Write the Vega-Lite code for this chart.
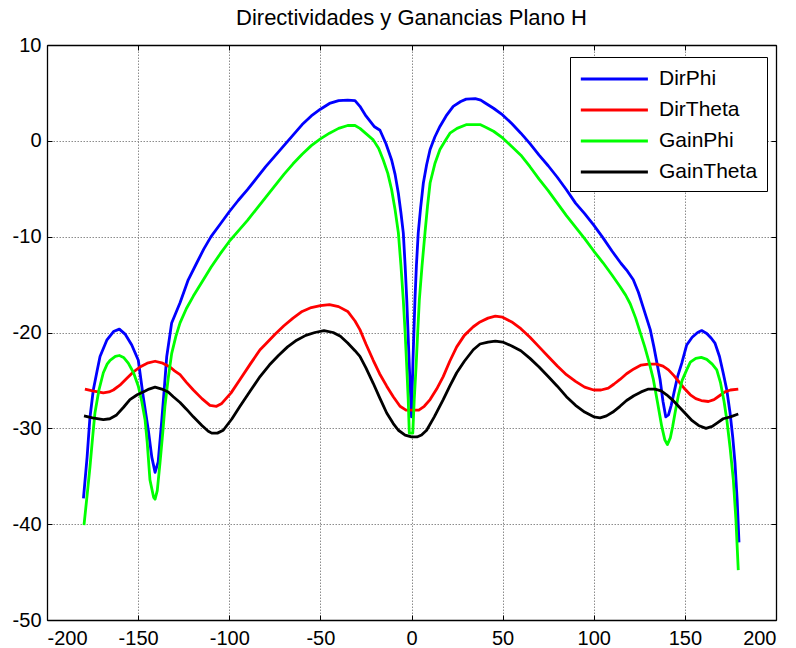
{
"$schema": "https://vega.github.io/schema/vega-lite/v6.json",
"width": 729,
"height": 575,
"autosize": {"type": "none"},
"padding": {"left": 47, "top": 45, "right": 20, "bottom": 28},
"background": "white",
"title": {"text": "Directividades y Ganancias Plano H", "fontSize": 22, "font": "Liberation Sans", "fontWeight": "normal", "color": "black", "offset": 5, "anchor": "middle"},
"datasets": {
"curves": [
{"s":"DirPhi","x":-180,"y":-37.3},{"s":"DirPhi","x":-178,"y":-33},{"s":"DirPhi","x":-176.5,"y":-29},{"s":"DirPhi","x":-174.6,"y":-26},{"s":"DirPhi","x":-172.5,"y":-24},{"s":"DirPhi","x":-170.9,"y":-22.5},{"s":"DirPhi","x":-167.2,"y":-20.8},{"s":"DirPhi","x":-163.5,"y":-19.9},{"s":"DirPhi","x":-160.3,"y":-19.65},{"s":"DirPhi","x":-157,"y":-20.2},{"s":"DirPhi","x":-153.5,"y":-21.3},{"s":"DirPhi","x":-149.9,"y":-22.9},{"s":"DirPhi","x":-147.2,"y":-26.7},{"s":"DirPhi","x":-144.4,"y":-30.2},{"s":"DirPhi","x":-142.5,"y":-33},{"s":"DirPhi","x":-140.7,"y":-34.6},{"s":"DirPhi","x":-139,"y":-33.5},{"s":"DirPhi","x":-137,"y":-29.1},{"s":"DirPhi","x":-135.5,"y":-25.5},{"s":"DirPhi","x":-134.3,"y":-22.5},{"s":"DirPhi","x":-131.6,"y":-19},{"s":"DirPhi","x":-127,"y":-16.9},{"s":"DirPhi","x":-122.5,"y":-14.5},{"s":"DirPhi","x":-118,"y":-12.8},{"s":"DirPhi","x":-114,"y":-11.3},{"s":"DirPhi","x":-110,"y":-10},{"s":"DirPhi","x":-105,"y":-8.7},{"s":"DirPhi","x":-100,"y":-7.4},{"s":"DirPhi","x":-95,"y":-6.2},{"s":"DirPhi","x":-90,"y":-5.1},{"s":"DirPhi","x":-85,"y":-3.9},{"s":"DirPhi","x":-80,"y":-2.7},{"s":"DirPhi","x":-75,"y":-1.6},{"s":"DirPhi","x":-70,"y":-0.5},{"s":"DirPhi","x":-65,"y":0.6},{"s":"DirPhi","x":-60,"y":1.7},{"s":"DirPhi","x":-55,"y":2.6},{"s":"DirPhi","x":-50,"y":3.3},{"s":"DirPhi","x":-45,"y":3.9},{"s":"DirPhi","x":-40,"y":4.2},{"s":"DirPhi","x":-35,"y":4.25},{"s":"DirPhi","x":-31,"y":4.2},{"s":"DirPhi","x":-28.3,"y":3.6},{"s":"DirPhi","x":-25,"y":2.6},{"s":"DirPhi","x":-20.5,"y":1.5},{"s":"DirPhi","x":-17.3,"y":1.1},{"s":"DirPhi","x":-14,"y":-0.3},{"s":"DirPhi","x":-10.9,"y":-2},{"s":"DirPhi","x":-9,"y":-3.5},{"s":"DirPhi","x":-7.2,"y":-5.5},{"s":"DirPhi","x":-5.8,"y":-7.5},{"s":"DirPhi","x":-4.5,"y":-9.6},{"s":"DirPhi","x":-3.5,"y":-13},{"s":"DirPhi","x":-2.6,"y":-16.6},{"s":"DirPhi","x":-1.2,"y":-23.5},{"s":"DirPhi","x":0,"y":-28.8},{"s":"DirPhi","x":0.8,"y":-23},{"s":"DirPhi","x":1.9,"y":-16.6},{"s":"DirPhi","x":2.7,"y":-13},{"s":"DirPhi","x":3.7,"y":-9.6},{"s":"DirPhi","x":5,"y":-7},{"s":"DirPhi","x":6.5,"y":-4.4},{"s":"DirPhi","x":8.3,"y":-2.5},{"s":"DirPhi","x":10.2,"y":-0.9},{"s":"DirPhi","x":12.8,"y":0.4},{"s":"DirPhi","x":15.6,"y":1.5},{"s":"DirPhi","x":19,"y":2.6},{"s":"DirPhi","x":22.9,"y":3.6},{"s":"DirPhi","x":27,"y":4.1},{"s":"DirPhi","x":30,"y":4.35},{"s":"DirPhi","x":35,"y":4.4},{"s":"DirPhi","x":38,"y":4.25},{"s":"DirPhi","x":40,"y":4},{"s":"DirPhi","x":45,"y":3.4},{"s":"DirPhi","x":50,"y":2.7},{"s":"DirPhi","x":55,"y":1.8},{"s":"DirPhi","x":60,"y":0.8},{"s":"DirPhi","x":65,"y":-0.3},{"s":"DirPhi","x":70,"y":-1.5},{"s":"DirPhi","x":75,"y":-2.6},{"s":"DirPhi","x":80,"y":-3.8},{"s":"DirPhi","x":85,"y":-5.1},{"s":"DirPhi","x":90,"y":-6.5},{"s":"DirPhi","x":95,"y":-7.6},{"s":"DirPhi","x":100,"y":-8.8},{"s":"DirPhi","x":105,"y":-10.1},{"s":"DirPhi","x":110,"y":-11.5},{"s":"DirPhi","x":115,"y":-12.8},{"s":"DirPhi","x":118.5,"y":-13.6},{"s":"DirPhi","x":121.7,"y":-14.5},{"s":"DirPhi","x":124.5,"y":-15.8},{"s":"DirPhi","x":127,"y":-17.3},{"s":"DirPhi","x":129,"y":-18.5},{"s":"DirPhi","x":131,"y":-19.7},{"s":"DirPhi","x":133,"y":-21.5},{"s":"DirPhi","x":134.8,"y":-23.3},{"s":"DirPhi","x":136.4,"y":-24.9},{"s":"DirPhi","x":138,"y":-27.2},{"s":"DirPhi","x":139.5,"y":-28.8},{"s":"DirPhi","x":141,"y":-28.6},{"s":"DirPhi","x":142.5,"y":-27.6},{"s":"DirPhi","x":144,"y":-26.3},{"s":"DirPhi","x":146,"y":-24.6},{"s":"DirPhi","x":148.3,"y":-23.2},{"s":"DirPhi","x":151,"y":-21.3},{"s":"DirPhi","x":154,"y":-20.5},{"s":"DirPhi","x":157,"y":-20},{"s":"DirPhi","x":159.2,"y":-19.8},{"s":"DirPhi","x":162,"y":-20.1},{"s":"DirPhi","x":164.5,"y":-20.6},{"s":"DirPhi","x":166.5,"y":-21.1},{"s":"DirPhi","x":169,"y":-22.5},{"s":"DirPhi","x":171,"y":-24.2},{"s":"DirPhi","x":173,"y":-26},{"s":"DirPhi","x":174.8,"y":-28.4},{"s":"DirPhi","x":176.3,"y":-31},{"s":"DirPhi","x":177.5,"y":-33.6},{"s":"DirPhi","x":178.7,"y":-37.5},{"s":"DirPhi","x":179.7,"y":-41.9},
{"s":"DirTheta","x":-179.2,"y":-25.9},{"s":"DirTheta","x":-175,"y":-26.1},{"s":"DirTheta","x":-169.1,"y":-26.3},{"s":"DirTheta","x":-166,"y":-26.2},{"s":"DirTheta","x":-163.6,"y":-26},{"s":"DirTheta","x":-160,"y":-25.5},{"s":"DirTheta","x":-156.3,"y":-24.8},{"s":"DirTheta","x":-152.5,"y":-24.1},{"s":"DirTheta","x":-149,"y":-23.6},{"s":"DirTheta","x":-145,"y":-23.2},{"s":"DirTheta","x":-140.7,"y":-23},{"s":"DirTheta","x":-136.5,"y":-23.2},{"s":"DirTheta","x":-132.5,"y":-23.6},{"s":"DirTheta","x":-130,"y":-24},{"s":"DirTheta","x":-127,"y":-24.4},{"s":"DirTheta","x":-123.5,"y":-25.2},{"s":"DirTheta","x":-119.7,"y":-26},{"s":"DirTheta","x":-115,"y":-26.9},{"s":"DirTheta","x":-110.6,"y":-27.6},{"s":"DirTheta","x":-107,"y":-27.7},{"s":"DirTheta","x":-104.1,"y":-27.4},{"s":"DirTheta","x":-99,"y":-26.3},{"s":"DirTheta","x":-94.1,"y":-24.9},{"s":"DirTheta","x":-88.5,"y":-23.3},{"s":"DirTheta","x":-83.1,"y":-21.8},{"s":"DirTheta","x":-80,"y":-21.2},{"s":"DirTheta","x":-75,"y":-20.2},{"s":"DirTheta","x":-70,"y":-19.3},{"s":"DirTheta","x":-65,"y":-18.5},{"s":"DirTheta","x":-60,"y":-17.8},{"s":"DirTheta","x":-55,"y":-17.4},{"s":"DirTheta","x":-50,"y":-17.2},{"s":"DirTheta","x":-45,"y":-17.1},{"s":"DirTheta","x":-40,"y":-17.3},{"s":"DirTheta","x":-35,"y":-17.8},{"s":"DirTheta","x":-31,"y":-18.8},{"s":"DirTheta","x":-28.3,"y":-19.7},{"s":"DirTheta","x":-25,"y":-21.2},{"s":"DirTheta","x":-21,"y":-22.9},{"s":"DirTheta","x":-17.5,"y":-24.3},{"s":"DirTheta","x":-13.6,"y":-25.6},{"s":"DirTheta","x":-10,"y":-26.7},{"s":"DirTheta","x":-6.3,"y":-27.7},{"s":"DirTheta","x":-3,"y":-28.1},{"s":"DirTheta","x":1,"y":-28.1},{"s":"DirTheta","x":4,"y":-28.1},{"s":"DirTheta","x":7,"y":-27.7},{"s":"DirTheta","x":10.2,"y":-27},{"s":"DirTheta","x":13.8,"y":-25.9},{"s":"DirTheta","x":17.4,"y":-24.6},{"s":"DirTheta","x":21,"y":-23},{"s":"DirTheta","x":24.8,"y":-21.5},{"s":"DirTheta","x":29,"y":-20.3},{"s":"DirTheta","x":33.9,"y":-19.4},{"s":"DirTheta","x":37.6,"y":-18.9},{"s":"DirTheta","x":42,"y":-18.5},{"s":"DirTheta","x":46,"y":-18.3},{"s":"DirTheta","x":50,"y":-18.4},{"s":"DirTheta","x":55,"y":-18.9},{"s":"DirTheta","x":60,"y":-19.6},{"s":"DirTheta","x":65,"y":-20.5},{"s":"DirTheta","x":70,"y":-21.5},{"s":"DirTheta","x":75,"y":-22.5},{"s":"DirTheta","x":80,"y":-23.5},{"s":"DirTheta","x":85,"y":-24.4},{"s":"DirTheta","x":90,"y":-25.1},{"s":"DirTheta","x":95,"y":-25.7},{"s":"DirTheta","x":100,"y":-26},{"s":"DirTheta","x":104,"y":-26},{"s":"DirTheta","x":108,"y":-25.8},{"s":"DirTheta","x":111,"y":-25.4},{"s":"DirTheta","x":114.4,"y":-24.9},{"s":"DirTheta","x":118,"y":-24.3},{"s":"DirTheta","x":122,"y":-23.8},{"s":"DirTheta","x":126,"y":-23.4},{"s":"DirTheta","x":130,"y":-23.3},{"s":"DirTheta","x":134.5,"y":-23.3},{"s":"DirTheta","x":138,"y":-23.5},{"s":"DirTheta","x":141,"y":-23.9},{"s":"DirTheta","x":144,"y":-24.5},{"s":"DirTheta","x":147,"y":-25.2},{"s":"DirTheta","x":150,"y":-25.9},{"s":"DirTheta","x":153,"y":-26.5},{"s":"DirTheta","x":156,"y":-26.9},{"s":"DirTheta","x":159,"y":-27.1},{"s":"DirTheta","x":162.9,"y":-27.2},{"s":"DirTheta","x":166,"y":-27},{"s":"DirTheta","x":169,"y":-26.6},{"s":"DirTheta","x":172,"y":-26.2},{"s":"DirTheta","x":175,"y":-26},{"s":"DirTheta","x":179.3,"y":-25.9},
{"s":"GainPhi","x":-179.7,"y":-40.1},{"s":"GainPhi","x":-178,"y":-37},{"s":"GainPhi","x":-176.4,"y":-34},{"s":"GainPhi","x":-175,"y":-31},{"s":"GainPhi","x":-173.7,"y":-28.4},{"s":"GainPhi","x":-171.5,"y":-26},{"s":"GainPhi","x":-169.1,"y":-24.2},{"s":"GainPhi","x":-167,"y":-23.3},{"s":"GainPhi","x":-165.4,"y":-22.9},{"s":"GainPhi","x":-162.5,"y":-22.5},{"s":"GainPhi","x":-160.3,"y":-22.4},{"s":"GainPhi","x":-158,"y":-22.6},{"s":"GainPhi","x":-155.4,"y":-23.2},{"s":"GainPhi","x":-152.5,"y":-24.2},{"s":"GainPhi","x":-149.9,"y":-25.6},{"s":"GainPhi","x":-148,"y":-27.2},{"s":"GainPhi","x":-146.2,"y":-29.1},{"s":"GainPhi","x":-145,"y":-31.5},{"s":"GainPhi","x":-143.5,"y":-35.4},{"s":"GainPhi","x":-141.5,"y":-37.2},{"s":"GainPhi","x":-140.7,"y":-37.4},{"s":"GainPhi","x":-139.5,"y":-36.5},{"s":"GainPhi","x":-138,"y":-33.6},{"s":"GainPhi","x":-136.5,"y":-30.5},{"s":"GainPhi","x":-135.3,"y":-27.7},{"s":"GainPhi","x":-133.5,"y":-24.8},{"s":"GainPhi","x":-131.6,"y":-22.2},{"s":"GainPhi","x":-129.3,"y":-20.4},{"s":"GainPhi","x":-127,"y":-19},{"s":"GainPhi","x":-123.5,"y":-17.5},{"s":"GainPhi","x":-119.7,"y":-16.2},{"s":"GainPhi","x":-114.2,"y":-14.5},{"s":"GainPhi","x":-110,"y":-13.2},{"s":"GainPhi","x":-105,"y":-11.8},{"s":"GainPhi","x":-100,"y":-10.5},{"s":"GainPhi","x":-95,"y":-9.4},{"s":"GainPhi","x":-90,"y":-8.3},{"s":"GainPhi","x":-85,"y":-7.1},{"s":"GainPhi","x":-80,"y":-5.9},{"s":"GainPhi","x":-75,"y":-4.7},{"s":"GainPhi","x":-70,"y":-3.5},{"s":"GainPhi","x":-65,"y":-2.4},{"s":"GainPhi","x":-60,"y":-1.4},{"s":"GainPhi","x":-55,"y":-0.5},{"s":"GainPhi","x":-50,"y":0.2},{"s":"GainPhi","x":-45,"y":0.8},{"s":"GainPhi","x":-40,"y":1.3},{"s":"GainPhi","x":-35,"y":1.6},{"s":"GainPhi","x":-31,"y":1.6},{"s":"GainPhi","x":-28.3,"y":1.3},{"s":"GainPhi","x":-24,"y":0.6},{"s":"GainPhi","x":-21,"y":0.1},{"s":"GainPhi","x":-18,"y":-0.8},{"s":"GainPhi","x":-15.5,"y":-2},{"s":"GainPhi","x":-13,"y":-3.4},{"s":"GainPhi","x":-10.9,"y":-5.1},{"s":"GainPhi","x":-9,"y":-7.2},{"s":"GainPhi","x":-7.2,"y":-9.6},{"s":"GainPhi","x":-5.8,"y":-13},{"s":"GainPhi","x":-4.5,"y":-16.6},{"s":"GainPhi","x":-3.5,"y":-20},{"s":"GainPhi","x":-2.6,"y":-23.6},{"s":"GainPhi","x":-1.8,"y":-27},{"s":"GainPhi","x":-1.2,"y":-30.5},{"s":"GainPhi","x":0.7,"y":-30.5},{"s":"GainPhi","x":1.5,"y":-27},{"s":"GainPhi","x":2.5,"y":-23.6},{"s":"GainPhi","x":3.4,"y":-20},{"s":"GainPhi","x":4.3,"y":-16.6},{"s":"GainPhi","x":5.8,"y":-13},{"s":"GainPhi","x":7.4,"y":-9.6},{"s":"GainPhi","x":8.8,"y":-6.8},{"s":"GainPhi","x":10.2,"y":-4.4},{"s":"GainPhi","x":12.8,"y":-2.4},{"s":"GainPhi","x":15.6,"y":-0.9},{"s":"GainPhi","x":18.5,"y":0},{"s":"GainPhi","x":21.1,"y":0.8},{"s":"GainPhi","x":25,"y":1.3},{"s":"GainPhi","x":30.3,"y":1.7},{"s":"GainPhi","x":37.6,"y":1.7},{"s":"GainPhi","x":41,"y":1.4},{"s":"GainPhi","x":45,"y":1},{"s":"GainPhi","x":50,"y":0.3},{"s":"GainPhi","x":55,"y":-0.6},{"s":"GainPhi","x":60,"y":-1.5},{"s":"GainPhi","x":65,"y":-2.7},{"s":"GainPhi","x":70,"y":-4},{"s":"GainPhi","x":75,"y":-5.2},{"s":"GainPhi","x":80,"y":-6.5},{"s":"GainPhi","x":85,"y":-7.8},{"s":"GainPhi","x":90,"y":-9},{"s":"GainPhi","x":95,"y":-10.2},{"s":"GainPhi","x":100,"y":-11.5},{"s":"GainPhi","x":105,"y":-12.7},{"s":"GainPhi","x":110,"y":-14},{"s":"GainPhi","x":114.4,"y":-15.2},{"s":"GainPhi","x":117.5,"y":-16.1},{"s":"GainPhi","x":120,"y":-17},{"s":"GainPhi","x":123,"y":-18.5},{"s":"GainPhi","x":126,"y":-20.3},{"s":"GainPhi","x":128,"y":-21.5},{"s":"GainPhi","x":130.5,"y":-23.2},{"s":"GainPhi","x":132.7,"y":-24.9},{"s":"GainPhi","x":135,"y":-27.3},{"s":"GainPhi","x":137.3,"y":-29.8},{"s":"GainPhi","x":139,"y":-31.2},{"s":"GainPhi","x":140.4,"y":-31.7},{"s":"GainPhi","x":142,"y":-31},{"s":"GainPhi","x":143.3,"y":-29.8},{"s":"GainPhi","x":144.6,"y":-28.4},{"s":"GainPhi","x":146.5,"y":-26.5},{"s":"GainPhi","x":148.5,"y":-25},{"s":"GainPhi","x":151,"y":-23.9},{"s":"GainPhi","x":153,"y":-23.1},{"s":"GainPhi","x":156,"y":-22.7},{"s":"GainPhi","x":159,"y":-22.6},{"s":"GainPhi","x":162,"y":-22.8},{"s":"GainPhi","x":165,"y":-23.3},{"s":"GainPhi","x":167.5,"y":-23.9},{"s":"GainPhi","x":169.5,"y":-25.2},{"s":"GainPhi","x":171.5,"y":-27.2},{"s":"GainPhi","x":173,"y":-29.1},{"s":"GainPhi","x":174.8,"y":-32},{"s":"GainPhi","x":176.6,"y":-35.4},{"s":"GainPhi","x":178,"y":-39.5},{"s":"GainPhi","x":179.3,"y":-44.8},
{"s":"GainTheta","x":-179.7,"y":-28.7},{"s":"GainTheta","x":-175,"y":-28.9},{"s":"GainTheta","x":-169.1,"y":-29.1},{"s":"GainTheta","x":-165.5,"y":-29},{"s":"GainTheta","x":-161.8,"y":-28.6},{"s":"GainTheta","x":-158,"y":-27.8},{"s":"GainTheta","x":-154.5,"y":-27},{"s":"GainTheta","x":-150.5,"y":-26.5},{"s":"GainTheta","x":-147.2,"y":-26.2},{"s":"GainTheta","x":-144,"y":-25.9},{"s":"GainTheta","x":-140.7,"y":-25.7},{"s":"GainTheta","x":-137,"y":-25.9},{"s":"GainTheta","x":-133.5,"y":-26.2},{"s":"GainTheta","x":-130.7,"y":-26.7},{"s":"GainTheta","x":-127,"y":-27.3},{"s":"GainTheta","x":-123.5,"y":-28},{"s":"GainTheta","x":-119.7,"y":-28.8},{"s":"GainTheta","x":-115,"y":-29.7},{"s":"GainTheta","x":-111.5,"y":-30.3},{"s":"GainTheta","x":-109.6,"y":-30.5},{"s":"GainTheta","x":-106.5,"y":-30.5},{"s":"GainTheta","x":-103.3,"y":-30.2},{"s":"GainTheta","x":-98.5,"y":-29},{"s":"GainTheta","x":-94.1,"y":-27.7},{"s":"GainTheta","x":-88.5,"y":-26.1},{"s":"GainTheta","x":-83.1,"y":-24.6},{"s":"GainTheta","x":-78,"y":-23.4},{"s":"GainTheta","x":-73,"y":-22.4},{"s":"GainTheta","x":-68,"y":-21.5},{"s":"GainTheta","x":-63,"y":-20.8},{"s":"GainTheta","x":-58,"y":-20.3},{"s":"GainTheta","x":-53,"y":-20},{"s":"GainTheta","x":-48,"y":-19.8},{"s":"GainTheta","x":-43,"y":-20},{"s":"GainTheta","x":-39,"y":-20.4},{"s":"GainTheta","x":-35,"y":-21.1},{"s":"GainTheta","x":-31,"y":-21.9},{"s":"GainTheta","x":-28.3,"y":-22.5},{"s":"GainTheta","x":-25,"y":-23.7},{"s":"GainTheta","x":-21,"y":-25.3},{"s":"GainTheta","x":-17.5,"y":-26.8},{"s":"GainTheta","x":-13.6,"y":-28.4},{"s":"GainTheta","x":-10,"y":-29.5},{"s":"GainTheta","x":-7.2,"y":-30.2},{"s":"GainTheta","x":-3.5,"y":-30.7},{"s":"GainTheta","x":0,"y":-30.9},{"s":"GainTheta","x":3,"y":-30.9},{"s":"GainTheta","x":5.5,"y":-30.7},{"s":"GainTheta","x":8.3,"y":-30.2},{"s":"GainTheta","x":12.5,"y":-28.8},{"s":"GainTheta","x":17.4,"y":-27},{"s":"GainTheta","x":21,"y":-25.6},{"s":"GainTheta","x":24.8,"y":-24.2},{"s":"GainTheta","x":29,"y":-23},{"s":"GainTheta","x":33.9,"y":-21.8},{"s":"GainTheta","x":37.6,"y":-21.2},{"s":"GainTheta","x":42,"y":-21},{"s":"GainTheta","x":46,"y":-20.9},{"s":"GainTheta","x":50,"y":-21},{"s":"GainTheta","x":55,"y":-21.4},{"s":"GainTheta","x":60,"y":-21.9},{"s":"GainTheta","x":65,"y":-22.7},{"s":"GainTheta","x":70,"y":-23.6},{"s":"GainTheta","x":75,"y":-24.6},{"s":"GainTheta","x":80,"y":-25.6},{"s":"GainTheta","x":85,"y":-26.7},{"s":"GainTheta","x":90,"y":-27.6},{"s":"GainTheta","x":95,"y":-28.3},{"s":"GainTheta","x":100,"y":-28.8},{"s":"GainTheta","x":103.5,"y":-28.9},{"s":"GainTheta","x":107,"y":-28.7},{"s":"GainTheta","x":110.5,"y":-28.3},{"s":"GainTheta","x":114.4,"y":-27.7},{"s":"GainTheta","x":118,"y":-27.1},{"s":"GainTheta","x":122,"y":-26.6},{"s":"GainTheta","x":126,"y":-26.2},{"s":"GainTheta","x":130,"y":-25.9},{"s":"GainTheta","x":133.6,"y":-25.9},{"s":"GainTheta","x":137,"y":-26.1},{"s":"GainTheta","x":140,"y":-26.5},{"s":"GainTheta","x":143,"y":-27},{"s":"GainTheta","x":146,"y":-27.6},{"s":"GainTheta","x":150,"y":-28.4},{"s":"GainTheta","x":154,"y":-29.2},{"s":"GainTheta","x":157.5,"y":-29.7},{"s":"GainTheta","x":161.6,"y":-30},{"s":"GainTheta","x":165,"y":-29.8},{"s":"GainTheta","x":168,"y":-29.4},{"s":"GainTheta","x":171,"y":-29},{"s":"GainTheta","x":175,"y":-28.8},{"s":"GainTheta","x":179.3,"y":-28.5}
]
},
"data": {"name": "curves"},
"layer": [
{
"mark": {"type": "line", "strokeWidth": 2.8, "strokeJoin": "round", "strokeCap": "butt"},
"encoding": {
"x": {"field": "x", "type": "quantitative", "scale": {"domain": [-200, 200], "nice": false, "zero": false}, "axis": {"orient": "bottom", "grid": true, "values": [-200,-150,-100,-50,0,50,100,150,200], "labelPadding": 13, "labelExpr": "'' + datum.value", "title": null}},
"y": {"field": "y", "type": "quantitative", "scale": {"domain": [-50, 10], "nice": false, "zero": false}, "axis": {"orient": "left", "grid": true, "values": [-50,-40,-30,-20,-10,0,10], "labelPadding": 11, "labelExpr": "'' + datum.value", "title": null}},
"color": {"field": "s", "type": "nominal", "sort": ["DirPhi","DirTheta","GainPhi","GainTheta"], "scale": {"domain": ["DirPhi","DirTheta","GainPhi","GainTheta"], "range": ["#0000ff","#ff0000","#00ff00","#000000"]},
"legend": {"orient": "none", "legendX": 523, "legendY": 12, "title": null, "symbolType": "M-1,0H5", "symbolSize": 500, "symbolStrokeWidth": 3, "labelFontSize": 21, "labelFont": "Liberation Sans", "labelColor": "black", "labelOffset": 54, "rowPadding": 8, "padding": 9, "strokeColor": "black", "fillColor": "white", "labelLimit": 300}}
}
},
{
"mark": {"type": "line", "strokeWidth": 2.8, "opacity": 0},
"encoding": {
"x": {"field": "x", "type": "quantitative", "axis": {"orient": "top", "labels": false, "grid": false, "values": [-200,-150,-100,-50,0,50,100,150,200], "title": null}},
"y": {"field": "y", "type": "quantitative", "axis": {"orient": "right", "labels": false, "grid": false, "values": [-50,-40,-30,-20,-10,0,10], "title": null}},
"detail": {"field": "s"}
}
}
],
"config": {
"font": "Liberation Sans",
"view": {"stroke": null},
"axis": {"domainColor": "black", "domainWidth": 1.3, "tickColor": "black", "tickSize": -5, "tickWidth": 1, "labelFontSize": 20, "labelColor": "black", "labelFont": "Liberation Sans", "gridColor": "#8c8c8c", "gridDash": [1.5, 1.5], "gridWidth": 1, "labelOverlap": false}
}
}
